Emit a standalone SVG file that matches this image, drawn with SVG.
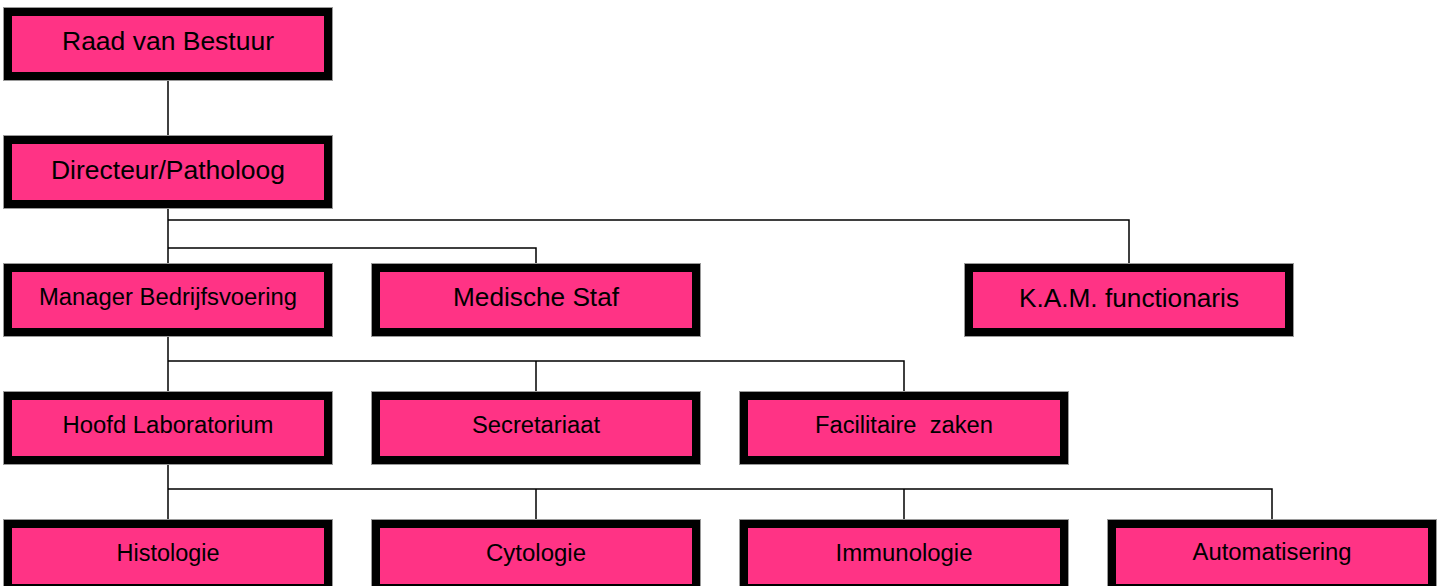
<svg xmlns="http://www.w3.org/2000/svg" width="1443" height="586" viewBox="0 0 1443 586">
<style>
.box{fill:#FF3385;stroke:#000;stroke-width:8}
.edge{fill:none;stroke:#9a9a9a;stroke-width:1}
.lbl{font-family:"Liberation Sans",Arial,sans-serif;fill:#000;text-anchor:middle;white-space:pre}
.big{font-size:25px}
.sm{font-size:23px}
#connectors path{fill:none;stroke:#000;stroke-width:1.5}
</style>
<rect width="1443" height="586" fill="#fff"/>
<g id="connectors">
<path d="M168 80V136"/>
<path d="M168 208V264"/>
<path d="M168 220H1129V264"/>
<path d="M168 248H536V264"/>
<path d="M168 336V392"/>
<path d="M168 361H904V392"/>
<path d="M536 361V392"/>
<path d="M168 464V520"/>
<path d="M168 489H1272V520"/>
<path d="M536 489V520"/>
<path d="M904 489V520"/>
</g>
<g id="raad"><rect class="edge" x="3.5" y="7.5" width="329" height="73"/><rect class="box" x="8" y="12" width="320" height="64"/><text class="lbl big" x="168" y="50" textLength="212" lengthAdjust="spacingAndGlyphs">Raad van Bestuur</text></g>
<g id="directeur"><rect class="edge" x="3.5" y="135.5" width="329" height="73"/><rect class="box" x="8" y="140" width="320" height="64"/><text class="lbl big" x="168" y="179" textLength="234" lengthAdjust="spacingAndGlyphs">Directeur/Patholoog</text></g>
<g id="manager"><rect class="edge" x="3.5" y="263.5" width="329" height="73"/><rect class="box" x="8" y="268" width="320" height="64"/><text class="lbl sm" x="168" y="305" textLength="258" lengthAdjust="spacingAndGlyphs">Manager Bedrijfsvoering</text></g>
<g id="medische"><rect class="edge" x="371.5" y="263.5" width="329" height="73"/><rect class="box" x="376" y="268" width="320" height="64"/><text class="lbl big" x="536" y="306" textLength="166" lengthAdjust="spacingAndGlyphs">Medische Staf</text></g>
<g id="kam"><rect class="edge" x="964.5" y="263.5" width="329" height="73"/><rect class="box" x="969" y="268" width="320" height="64"/><text class="lbl big" x="1129" y="306.5" textLength="220" lengthAdjust="spacingAndGlyphs">K.A.M. functionaris</text></g>
<g id="hoofd"><rect class="edge" x="3.5" y="391.5" width="329" height="73"/><rect class="box" x="8" y="396" width="320" height="64"/><text class="lbl sm" x="168" y="432.5" textLength="211" lengthAdjust="spacingAndGlyphs">Hoofd Laboratorium</text></g>
<g id="secretariaat"><rect class="edge" x="371.5" y="391.5" width="329" height="73"/><rect class="box" x="376" y="396" width="320" height="64"/><text class="lbl sm" x="536" y="432.5" textLength="128" lengthAdjust="spacingAndGlyphs">Secretariaat</text></g>
<g id="facilitaire"><rect class="edge" x="739.5" y="391.5" width="329" height="73"/><rect class="box" x="744" y="396" width="320" height="64"/><text class="lbl sm" x="904" y="432.5" textLength="178" lengthAdjust="spacingAndGlyphs" xml:space="preserve">Facilitaire  zaken</text></g>
<g id="histologie"><rect class="edge" x="3.5" y="519.5" width="329" height="73"/><rect class="box" x="8" y="524" width="320" height="64"/><text class="lbl sm" x="168" y="561" textLength="103" lengthAdjust="spacingAndGlyphs">Histologie</text></g>
<g id="cytologie"><rect class="edge" x="371.5" y="519.5" width="329" height="73"/><rect class="box" x="376" y="524" width="320" height="64"/><text class="lbl sm" x="536" y="560.5" textLength="100" lengthAdjust="spacingAndGlyphs">Cytologie</text></g>
<g id="immunologie"><rect class="edge" x="739.5" y="519.5" width="329" height="73"/><rect class="box" x="744" y="524" width="320" height="64"/><text class="lbl sm" x="904" y="560.5" textLength="137" lengthAdjust="spacingAndGlyphs">Immunologie</text></g>
<g id="automatisering"><rect class="edge" x="1107.5" y="519.5" width="329" height="73"/><rect class="box" x="1112" y="524" width="320" height="64"/><text class="lbl sm" x="1272" y="560" textLength="159" lengthAdjust="spacingAndGlyphs">Automatisering</text></g>
</svg>
